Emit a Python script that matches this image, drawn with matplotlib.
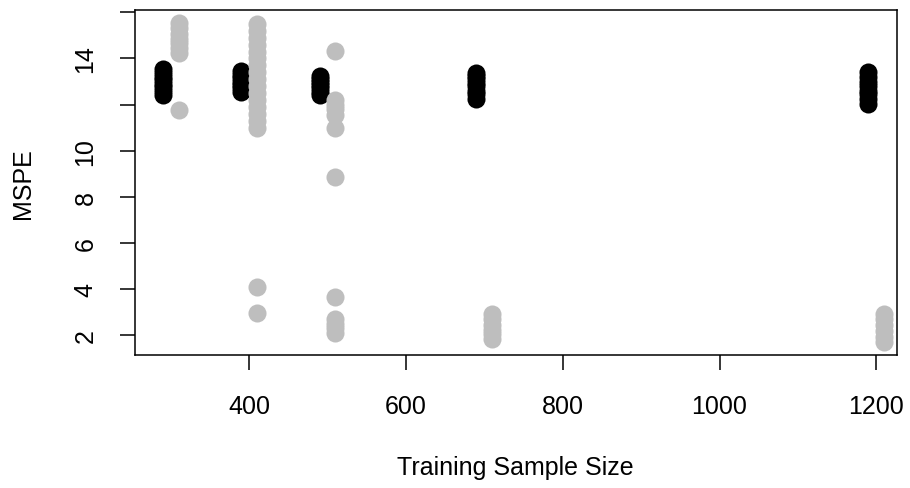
import numpy as np
import matplotlib.pyplot as plt

plt.rcParams['font.family'] = ['Liberation Sans', 'DejaVu Sans']

# training sample sizes (black series shifted left, grey series shifted right)
n_black = [290, 390, 490, 690, 1190]
n_grey = [310, 410, 510, 710, 1210]

mspe_black = [
    [12.43, 12.6, 12.75, 12.9, 13.05, 13.2, 13.35, 13.53],
    [12.53, 12.7, 12.85, 13.0, 13.15, 13.3, 13.46],
    [12.42, 12.55, 12.7, 12.85, 13.0, 13.12, 13.24],
    [12.26, 12.45, 12.6, 12.8, 12.95, 13.1, 13.25, 13.39],
    [12.04, 12.25, 12.45, 12.6, 12.8, 13.0, 13.2, 13.43],
]

mspe_grey = [
    [11.75, 14.24, 14.45, 14.65, 14.85, 15.05, 15.3, 15.55],
    [2.98, 4.08, 11.0, 11.3, 11.6, 11.9, 12.2, 12.5, 12.8, 13.1, 13.4,
     13.7, 14.0, 14.3, 14.6, 14.9, 15.2, 15.48],
    [2.1, 2.3, 2.5, 2.71, 3.68, 8.87, 11.0, 11.57, 11.8, 12.0, 12.2, 14.32],
    [1.85, 2.05, 2.25, 2.45, 2.7, 2.91],
    [1.72, 1.95, 2.2, 2.45, 2.7, 2.93],
]

xticks = [400, 600, 800, 1000, 1200]
yticks = [2, 4, 6, 8, 10, 12, 14, 16]
ytick_labels = ['2', '4', '6', '8', '10', '', '14', '']


def main():
    fig = plt.figure(figsize=(9.1, 4.89), dpi=100)
    ax = fig.add_axes([0.148, 0.272, 0.8374, 0.7055])

    for n, vals in zip(n_black, mspe_black):
        ax.plot(np.full(len(vals), n), vals, 'o', color='black',
                markersize=13, markeredgewidth=0)
    for n, vals in zip(n_grey, mspe_grey):
        ax.plot(np.full(len(vals), n), vals, 'o', color='#BEBEBE',
                markersize=13, markeredgewidth=0)

    ax.set_xlim(254, 1226)
    ax.set_ylim(1.15, 16.1)

    ax.set_xticks(xticks)
    ax.set_yticks(yticks)
    ax.set_yticklabels(ytick_labels, rotation=90, va='center')

    ax.tick_params(axis='both', length=10.8, width=1.1, labelsize=18)
    ax.tick_params(axis='x', pad=17)
    ax.tick_params(axis='y', pad=16)
    for s in ax.spines.values():
        s.set_linewidth(1.1)
    # R-style detached axis lines: keep box, ticks only
    ax.spines['bottom'].set_visible(True)

    ax.set_xlabel('Training Sample Size', fontsize=18)
    ax.set_ylabel('MSPE', fontsize=18, va='center')
    ax.xaxis.set_label_coords(0.5, -0.29)
    ax.yaxis.set_label_coords(-0.1466, 0.5)

    fig.savefig('out.png', dpi=100)


main()
